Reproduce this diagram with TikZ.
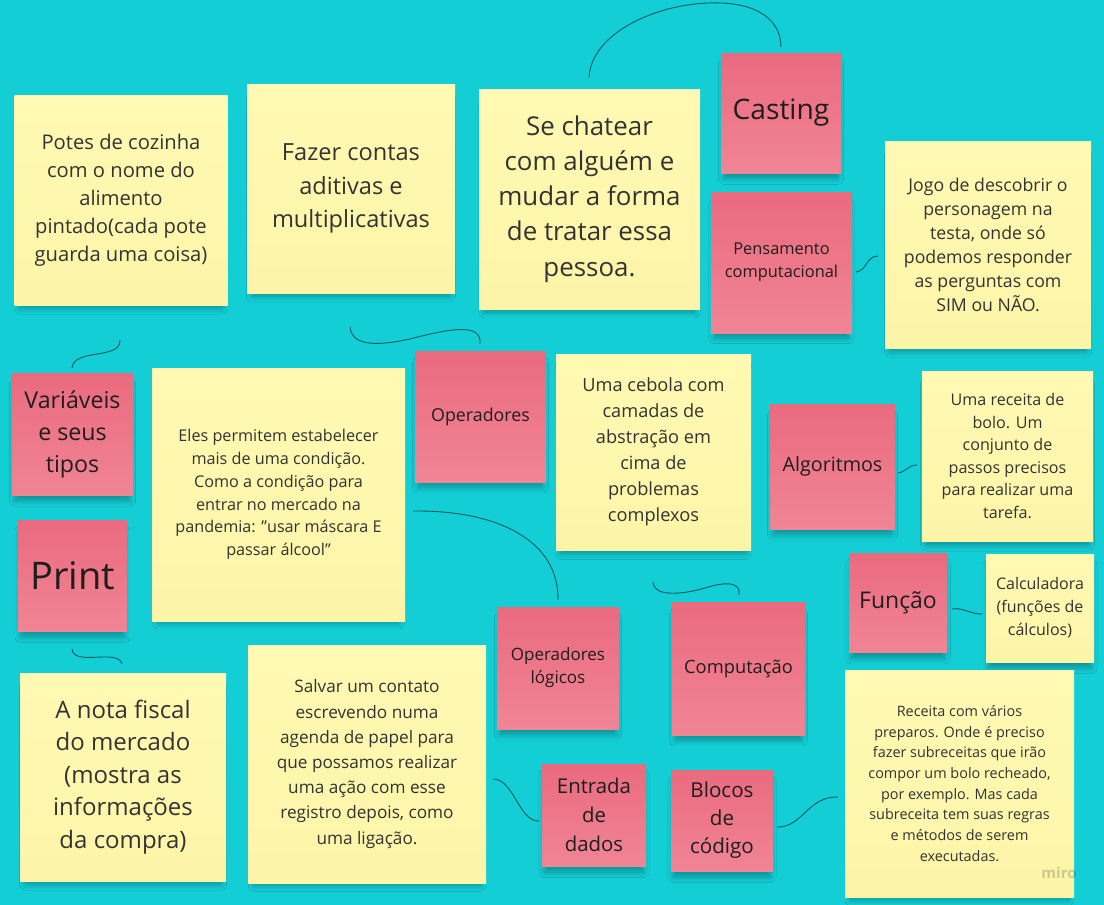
\documentclass[tikz,border=0pt]{standalone}
\usepackage{fontspec}
\setmainfont{Open Sans}
\usetikzlibrary{shadows.blur}
\definecolor{bg}{HTML}{14CED5}
\definecolor{ytop}{HTML}{FFF9B3}
\definecolor{ybot}{HTML}{FCF5A8}
\definecolor{ptop}{HTML}{EA6A7E}
\definecolor{pbot}{HTML}{F08595}
\definecolor{ytxt}{HTML}{333333}
\definecolor{ptxt}{HTML}{1E1E1E}
\definecolor{wire}{HTML}{0D5A60}
\tikzset{
  note/.style={rectangle, inner sep=0pt, align=center,
    blur shadow={shadow xshift=0pt, shadow yshift=-9pt, shadow scale=0.95, shadow blur radius=6pt, shadow blur steps=8, shadow opacity=30}},
  ynote/.style={note, top color=ytop, bottom color=ybot, text=ytxt},
  pnote/.style={note, top color=ptop, bottom color=pbot, text=ptxt},
  wirestyle/.style={draw=wire, line width=0.9pt},
}
\newcommand\fs[2]{\fontsize{#1}{#2}\selectfont}
\newcommand\dq{\symbol{34}}
\begin{document}
\begin{tikzpicture}[x=1pt, y=-1pt]
\fill[bg] (0,0) rectangle (1104,905);
\useasboundingbox (0,0) rectangle (1104,905);

% yellow notes
\node[ynote, font=\fs{20.2}{28}, minimum width=213, minimum height=210] (potes) at (121,200) {Potes de cozinha\\com o nome do\\alimento\\pintado(cada pote\\guarda uma coisa)};
\node[ynote, font=\fs{23.6}{33.5}, minimum width=208, minimum height=209] (fazer) at (351,188.5) {Fazer contas\\aditivas e\\multiplicativas};
\node[ynote, font=\fs{25.9}{35.2}, minimum width=221, minimum height=220] (chatear) at (589.5,199) {Se chatear\\com alguém e\\mudar a forma\\de tratar essa\\pessoa.};
\node[ynote, font=\fs{17.7}{24}, minimum width=206, minimum height=207] (jogo) at (988,244.5) {Jogo de descobrir o\\personagem na\\testa, onde só\\podemos responder\\as perguntas com\\SIM ou NÃO.};
\node[ynote, font=\fs{16.2}{22.8}, minimum width=253, minimum height=253] (eles) at (278.5,494.5) {Eles permitem estabelecer\\mais de uma condição.\\Como a condição para\\entrar no mercado na\\pandemia: \dq usar máscara E\\passar álcool\dq};
\node[ynote, font=\fs{18.2}{26}, minimum width=195, minimum height=196] (cebola) at (653.5,452) {Uma cebola com\\camadas de\\abstração em\\cima de\\problemas\\complexos};
\node[ynote, font=\fs{16.1}{22.6}, minimum width=171, minimum height=170] (receita) at (1007.5,456) {Uma receita de\\bolo. Um\\conjunto de\\passos precisos\\para realizar uma\\tarefa.};
\node[ynote, font=\fs{16}{23}, minimum width=108, minimum height=108] (calc) at (1040,608) {Calculadora\\(funções de\\cálculos)};
\node[ynote, font=\fs{24}{32.5}, minimum width=206, minimum height=208] (nota) at (123,777) {A nota fiscal\\do mercado\\(mostra as\\informações\\da compra)};
\node[ynote, font=\fs{17.2}{25.2}, minimum width=238, minimum height=238] (salvar) at (367,764) {Salvar um contato\\escrevendo numa\\agenda de papel para\\que possamos realizar\\uma ação com esse\\registro depois, como\\uma ligação.};
\node[ynote, font=\fs{14.4}{20.7}, minimum width=229, minimum height=227] (bolo) at (959.5,783.5) {Receita com vários\\preparos. Onde é preciso\\fazer subreceitas que irão\\compor um bolo recheado,\\por exemplo. Mas cada\\subreceita tem suas regras\\e métodos de serem\\executadas.};

% pink notes
\node[pnote, font=\fs{28.2}{32}, minimum width=120, minimum height=120] (casting) at (781,113) {Casting};
\node[pnote, font=\fs{16.4}{23}, minimum width=141, minimum height=141] (pens) at (781.5,262.5) {Pensamento\\computacional};
\node[pnote, font=\fs{23.2}{32}, minimum width=121, minimum height=122] (vars) at (72.5,434) {Variáveis\\e seus\\tipos};
\node[pnote, font=\fs{17.8}{22}, minimum width=131, minimum height=131] (oper) at (480.5,416.5) {Operadores};
\node[pnote, font=\fs{19.7}{22}, minimum width=125, minimum height=125] (algo) at (832.5,466.5) {Algoritmos};
\node[pnote, font=\fs{38}{44}, minimum width=109, minimum height=111] (print) at (72.5,575.5) {Print};
\node[pnote, font=\fs{23}{26}, minimum width=98, minimum height=99] (funcao) at (898,602.5) {Função};
\node[pnote, font=\fs{17}{23}, minimum width=122, minimum height=122] (opl) at (558,668) {Operadores\\lógicos};
\node[pnote, font=\fs{18.3}{22}, minimum width=133, minimum height=133] (comp) at (738.5,668.5) {Computação};
\node[pnote, font=\fs{20.4}{29}, minimum width=104, minimum height=102] (entrada) at (594,815) {Entrada\\de\\dados};
\node[pnote, font=\fs{20.6}{28}, minimum width=102, minimum height=101] (blocos) at (722,820.5) {Blocos\\de\\código};

% watermark
\node[text=black, opacity=0.18, font=\fs{15}{18}\bfseries] (miro) at (1059,873) {miro};

% connector end points
\coordinate (a1) at (589,77);  \coordinate (a2) at (708,3);   \coordinate (a3) at (781,47);
\coordinate (b1) at (120,340); \coordinate (b2) at (72,368);
\coordinate (c1) at (350,327); \coordinate (c2) at (410,339); \coordinate (c3) at (480,344);
\coordinate (d1) at (413,511); \coordinate (d2) at (558,600);
\coordinate (e1) at (653,582); \coordinate (e2) at (705,588); \coordinate (e3) at (739,595);
\coordinate (f1) at (72,649);  \coordinate (f2) at (122,664);
\coordinate (g1) at (493,779); \coordinate (g2) at (539,821);
\coordinate (h1) at (777,827); \coordinate (h2) at (838,797);
\coordinate (i1) at (856,272); \coordinate (i2) at (878,256);
\coordinate (j1) at (898,473); \coordinate (j2) at (917,465);
\coordinate (k1) at (952,609); \coordinate (k2) at (982,614);

\draw[wirestyle] (a1) .. controls (592,33) and (655,5) .. (a2) .. controls (760,1) and (781,22) .. (a3);
\draw[wirestyle] (b1) .. controls (121,360) and (74,348) .. (b2);
\draw[wirestyle] (c1) .. controls (352,348) and (382,345) .. (c2) .. controls (452,328) and (482,323) .. (c3);
\draw[wirestyle] (d1) .. controls (502,510) and (559,543) .. (d2);
\draw[wirestyle] (e1) .. controls (654,599) and (688,593) .. (e2) .. controls (730,580) and (741,584) .. (e3);
\draw[wirestyle] (f1) .. controls (74,667) and (118,648) .. (f2);
\draw[wirestyle] (g1) .. controls (514,779) and (519,822) .. (g2);
\draw[wirestyle] (h1) .. controls (802,828) and (808,796) .. (h2);
\draw[wirestyle] (i1) .. controls (867,271) and (866,256) .. (i2);
\draw[wirestyle] (j1) .. controls (906,472) and (908,465) .. (j2);
\draw[wirestyle] (k1) .. controls (962,607) and (970,614) .. (k2);
\end{tikzpicture}
\end{document}
